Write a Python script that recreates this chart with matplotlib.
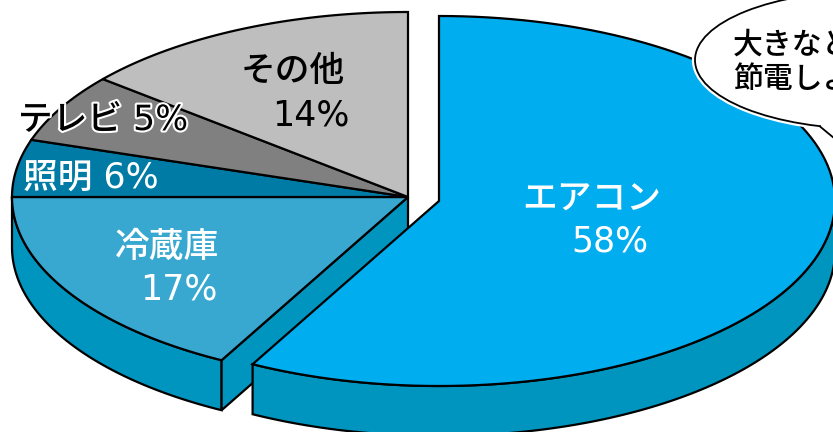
import numpy as np
import matplotlib
matplotlib.use("Agg")
import matplotlib.pyplot as plt
import matplotlib.patheffects as pe
from matplotlib.patches import Ellipse

plt.rcParams['font.family'] = ['DejaVu Sans', 'Noto Sans CJK JP']

# shares as the slices are drawn, clockwise from 12 o'clock
names = ["エアコン", "冷蔵庫", "照明", "テレビ", "その他"]
shares = [57.8, 17.2, 5, 6, 14]
top_colors = ["#00adef", "#38a8d0", "#007ba5", "#808080", "#bebebe"]
side_color = "#0095bf"

RX, RY, DEPTH = 396, 185, 50
CENTER = (408, 197)
CENTER_OUT = (439, 201)


def arc(center, start, end, n=120):
    # start/end in percent, clockwise from the top of the ellipse
    t = np.radians(90 - np.linspace(start, end, n) * 3.6)
    return center[0] + RX * np.cos(t), center[1] - RY * np.sin(t)


def draw_wall(center, start, end):
    x, y = arc(center, start, end)
    xs = np.r_[x, x[::-1]]
    ys = np.r_[y, y[::-1] + DEPTH]
    ax.fill(xs, ys, fc=side_color, ec="black", lw=1.6, joinstyle="miter")


def draw_slice(center, start, end, color):
    x, y = arc(center, start, end)
    ax.fill(np.r_[center[0], x], np.r_[center[1], y], fc=color, ec="black", lw=1.6,
            joinstyle="miter")


fig = plt.figure(figsize=(8.33, 4.32), dpi=100)
ax = fig.add_axes([0, 0, 1, 1])
ax.set_xlim(0, 833)
ax.set_ylim(432, 0)
ax.axis("off")

edges = np.r_[0, np.cumsum(shares)]

# rest of the pie: wall, cut face, then the tops
draw_wall(CENTER, edges[1], 75)
x0, y0 = arc(CENTER, edges[1], edges[1], 1)
ax.fill([CENTER[0], x0[0], x0[0], CENTER[0]],
        [CENTER[1], y0[0], y0[0] + DEPTH, CENTER[1] + DEPTH],
        fc=side_color, ec="black", lw=1.6, joinstyle="miter")
for i in range(1, len(shares)):
    draw_slice(CENTER, edges[i], edges[i + 1], top_colors[i])

# pulled out slice
draw_wall(CENTER_OUT, 25, edges[1])
draw_slice(CENTER_OUT, edges[0], edges[1], top_colors[0])

# speech bubble
ax.add_patch(Ellipse((869, 60), 348, 138, fc="white", ec="white", lw=4.5, zorder=5))
ax.add_patch(Ellipse((869, 60), 348, 138, fc="white", ec="black", lw=1.3, zorder=6))
ax.fill([821, 821, 845, 850, 850], [110, 128, 148, 148, 110], fc="white", ec="none", zorder=7)
ax.plot([820, 840], [126.5, 143], color="black", lw=1.3, zorder=8)
ax.text(733, 45, "大きなところ", fontsize=21.5, color="black", va="center", ha="left",
        weight="medium", zorder=9)
ax.text(733, 80, "節電しよう", fontsize=21.5, color="black", va="center", ha="left",
        weight="medium", zorder=9)

fs = 25
white_style = dict(fontsize=fs, color="white", ha="center", va="center", weight="medium")
black_style = dict(fontsize=fs, color="black", ha="center", va="center", weight="medium")
ax.text(592, 200, "エアコン", **white_style)
ax.text(610, 242, "58%", **white_style)
ax.text(167, 247, "冷蔵庫", **white_style)
ax.text(179, 289, "17%", **white_style)
ax.text(91, 179, "照明 6%", **white_style)
text_tv = ax.text(103, 120, "テレビ 5%", **black_style)
text_tv.set_path_effects([pe.withStroke(linewidth=3, foreground="white")])
ax.text(293, 71, "その他", **black_style)
ax.text(311, 115, "14%", **black_style)

fig.savefig("out.png", dpi=100)
